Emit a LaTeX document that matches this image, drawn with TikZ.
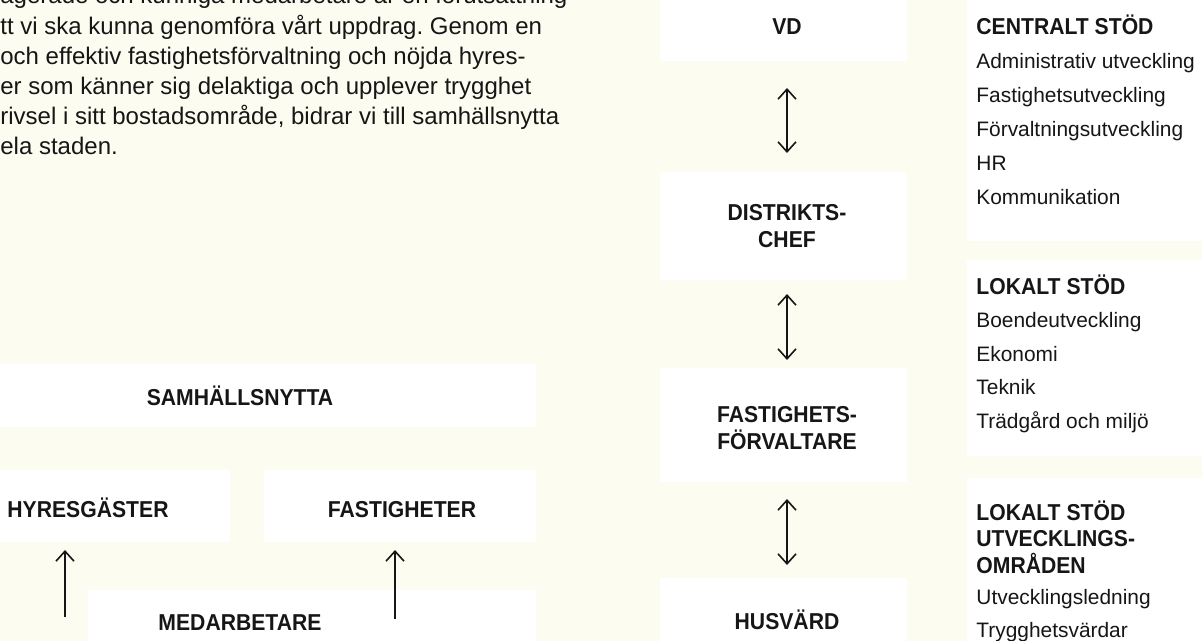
\documentclass[tikz,border=0pt]{standalone}
\usepackage{fontspec}
\setmainfont{Liberation Sans}
\newfontfamily\headfont[FakeStretch=0.92]{Liberation Sans}
\usetikzlibrary{arrows.meta,positioning}
\definecolor{paper}{RGB}{253,252,240}
\definecolor{ink}{RGB}{22,22,22}
\tikzset{
  head/.style={font=\headfont\bfseries\fontsize{11.5}{13.3}\selectfont, text=ink, inner sep=0pt},
  item/.style={font=\fontsize{10.45}{12}\selectfont, text=ink, inner sep=0pt, anchor=base west},
  body/.style={font=\frenchspacing\fontsize{12}{12}\selectfont, text=ink, inner sep=0pt, anchor=base west},
  panel/.style={fill=white},
  updown/.style={{Straight Barb[length=5pt,width=9pt]}-{Straight Barb[length=5pt,width=9pt]}, line width=0.8pt, ink},
  uponly/.style={-{Straight Barb[length=5pt,width=9pt]}, line width=0.8pt, ink}
}

\begin{document}
\begin{tikzpicture}[x=0.5pt, y=-0.5pt]
    % Paper and page frame
    \fill[paper] (0,0) rectangle (1202,641);
    \useasboundingbox (0,0) rectangle (1202,641);
    \clip (0,0) rectangle (1202,641);
    % White panels behind the labels
    \fill[panel] (0,364) rectangle (536,427);
    \fill[panel] (0,470) rectangle (230,542);
    \fill[panel] (264,470) rectangle (536,542);
    \fill[panel] (88,590) rectangle (536,641);
    \fill[panel] (660,0) rectangle (907,61);
    \fill[panel] (660,172) rectangle (907,280);
    \fill[panel] (660,368) rectangle (907,482);
    \fill[panel] (660,578) rectangle (907,641);
    \fill[panel] (967,0) rectangle (1202,241);
    \fill[panel] (967,260) rectangle (1202,456);
    \fill[panel] (967,478) rectangle (1202,641);
    % Running text, cut at the left and top edge
    \foreach \t [count=\i] in {agerade och kunniga medarbetare är en förutsättning,
        tt vi ska kunna genomföra vårt uppdrag. Genom en,
        och effektiv fastighetsförvaltning och nöjda hyres-,
        er som känner sig delaktiga och upplever trygghet,
        {rivsel i sitt bostadsområde, bidrar vi till samhällsnytta},
        ela staden.} {
      \node[body] (txt\i) at (0,{4+(\i-1)*30.2}) {\t};
    }
    % Value chain
    \node[head, anchor=base] (samhalle) at (240,405) {SAMHÄLLSNYTTA};
    \node[head, anchor=base] (hyresgaster) at (88,517) {HYRESGÄSTER};
    \node[head, anchor=base] (fastigheter) at (402,517) {FASTIGHETER};
    \node[head, anchor=base] (medarbetare) at (240,630) {MEDARBETARE};
    \coordinate (hg0) at (65,617);
    \coordinate (hg1) at (65,550);
    \coordinate (fa0) at (395,619);
    \coordinate (fa1) at (395,550);
    \draw[uponly] (hg0) -- (hg1);
    \draw[uponly] (fa0) -- (fa1);
    % Line organisation
    \node[head, anchor=base] (vd) at (787,35) {VD};
    \node[head, anchor=north, align=center] (distrikt) at (787,204) {DISTRIKTS-\\CHEF};
    \node[head, anchor=north, align=center] (forvaltare) at (787,406) {FASTIGHETS-\\FÖRVALTARE};
    \node[head, anchor=base] (husvard) at (787,629) {HUSVÄRD};
    \coordinate (vd0) at (787,88);
    \coordinate (di1) at (787,153);
    \coordinate (di0) at (787,294);
    \coordinate (fo1) at (787,360);
    \coordinate (fo0) at (787,499);
    \coordinate (hu1) at (787,565);
    \draw[updown] (vd0) -- (di1);
    \draw[updown] (di0) -- (fo1);
    \draw[updown] (fo0) -- (hu1);
    % Support functions
    \node[head, anchor=base west] (central) at (976,35) {CENTRALT STÖD};
    \foreach \t [count=\i] in {Administrativ utveckling, Fastighetsutveckling,
        Förvaltningsutveckling, HR, Kommunikation} {
      \node[item] (cs\i) at (976,{35+\i*33.9}) {\t};
    }
    \node[head, anchor=base west] (lokal) at (976,294) {LOKALT STÖD};
    \foreach \t [count=\i] in {Boendeutveckling, Ekonomi, Teknik, Trädgård och miljö} {
      \node[item] (ls\i) at (976,{294+\i*33.6}) {\t};
    }
    \node[head, anchor=north west, align=left] (lokalutv) at (976,500) {LOKALT STÖD\\UTVECKLINGS-\\OMRÅDEN};
    \foreach \t [count=\i] in {Utvecklingsledning, Trygghetsvärdar} {
      \node[item] (lu\i) at (976,{571+\i*33.2}) {\t};
    }
\end{tikzpicture}
\end{document}
